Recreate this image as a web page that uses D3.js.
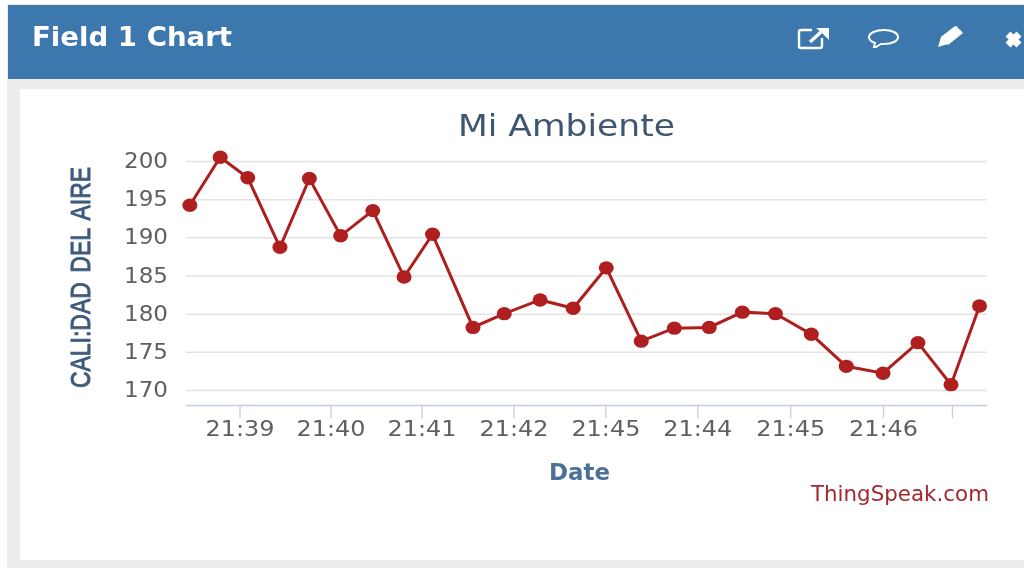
<!DOCTYPE html>
<html><head><meta charset="utf-8">
<script src="https://cdn.jsdelivr.net/npm/d3@7"></script>
<style>html,body{margin:0;padding:0;background:#fff}svg{display:block;filter:blur(.5px)}text{font-family:"DejaVu Sans",sans-serif}</style>
</head><body><svg id="c" width="1024" height="569"></svg>
<script>
const minutes=[38.46,38.79,39.09,39.44,39.76,40.1,40.45,40.79,41.1,41.54,41.88,42.27,42.63,42.99,43.37,43.73,44.11,44.47,44.83,45.22,45.6,46,46.38,46.74,47.05];
const values=[194.2,200.5,197.8,188.7,197.7,190.2,193.5,184.8,190.4,178.2,180,181.8,180.7,186,176.4,178.1,178.2,180.2,180,177.3,173.1,172.2,176.2,170.7,181];
const yTicks=[170,175,180,185,190,195,200];
const xTicks=[39,39.99,40.98,41.98,42.98,43.98,44.99,46,46.75];
const xLabels=["21:39","21:40","21:41","21:42","21:45","21:44","21:45","21:46",""];
const svg=d3.select("#c");
svg.append("rect").attr("x",7).attr("y",4).attr("width",1017).attr("height",564).attr("fill","#ececec");
svg.append("rect").attr("x",8).attr("y",5).attr("width",1016).attr("height",74).attr("fill","#3c77ad");
svg.append("rect").attr("x",20).attr("y",89).attr("width",1004).attr("height",471).attr("fill","#fff");
svg.append("text").attr("x",32).attr("y",46).attr("fill","#fff").attr("font-size",27).attr("font-weight",700).attr("textLength",200).attr("lengthAdjust","spacingAndGlyphs").text("Field 1 Chart");

const icons=svg.append("g").attr("fill","none").attr("stroke","#fff").attr("stroke-width",2.4);
icons.append("path").attr("d","M822 38v8a2 2 0 0 1-2 2h-19a2 2 0 0 1-2-2v-14a2 2 0 0 1 2-2h11");
icons.append("path").attr("d","M810 42l11-10").attr("stroke-width",3.4);
icons.append("path").attr("d","M816 28h13v12l-4-4-3-3z").attr("fill","#fff").attr("stroke","none");
icons.append("path").attr("d","M884 30c8 0 14 3 14 7s-6 7-14 7c-1 0-2 0-3 0l-5 3-2 0 1-4c-3-1-6-3-6-6 0-4 7-7 15-7z").attr("stroke-width",2);
icons.append("path").attr("d","M938 47l3-10 14-11 3 1 -15 12 3 3 15-12 1 3 -14 11z").attr("fill","#fff").attr("stroke","none");
icons.append("path").attr("d","M941 37l15-11 7 7-15 12z").attr("fill","#fff").attr("stroke","none");
icons.append("path").attr("d","M1008 34l11 11M1019 34l-11 11").attr("stroke-width",7);

const x=d3.scaleLinear().domain([39,46]).range([239.5,883]);
const y=d3.scaleLinear().domain([170,200]).range([390,161]);
const left=186,right=987,axisY=405;
const gy=svg.append("g").attr("transform",`translate(${left},0)`)
 .call(d3.axisLeft(y).tickValues(yTicks).tickSize(-(right-left)).tickPadding(18));
gy.select(".domain").remove();
gy.selectAll("line").attr("stroke","#e3e3e6").attr("stroke-width",1.5);
gy.selectAll("text").attr("fill","#606060").attr("font-size",20.5).attr("font-family","DejaVu Sans").attr("dy","0.32em").attr("textLength",44).attr("lengthAdjust","spacingAndGlyphs");
const gx=svg.append("g").attr("transform",`translate(0,${axisY})`)
 .call(d3.axisBottom(x).tickValues(xTicks).tickFormat((d,i)=>xLabels[i]).tickSize(13).tickPadding(3).tickSizeOuter(0));
gx.select(".domain").attr("d",`M${left},0.5H${right}`).attr("stroke","#c0d0e0").attr("stroke-width",1.3);
gx.selectAll("line").attr("stroke","#c0d0e0").attr("stroke-width",1.3);
gx.selectAll("text").attr("fill","#606060").attr("font-size",21).attr("font-family","DejaVu Sans").filter((d,i)=>xLabels[i]).attr("textLength",69).attr("lengthAdjust","spacingAndGlyphs");
const line=d3.line().x((d,i)=>x(minutes[i])).y(d=>y(d));
svg.append("path").datum(values).attr("d",line).attr("fill","none").attr("stroke","#ad1f1f").attr("stroke-width",3);
svg.selectAll("ellipse").data(values).join("ellipse").attr("cx",(d,i)=>x(minutes[i])).attr("cy",d=>y(d)).attr("rx",7.5).attr("ry",6.7).attr("fill","#b01f1f");
svg.append("text").attr("x",566.5).attr("y",136).attr("text-anchor","middle").attr("fill","#3e566f").attr("font-size",30).attr("textLength",217).attr("lengthAdjust","spacingAndGlyphs").text("Mi Ambiente");
svg.append("text").attr("x",579.5).attr("y",480).attr("text-anchor","middle").attr("fill","#4d7099").attr("font-size",23).attr("font-weight",700).attr("textLength",61).attr("lengthAdjust","spacingAndGlyphs").text("Date");
svg.append("text").attr("x",900).attr("y",501).attr("text-anchor","middle").attr("fill","#a3282f").attr("font-size",20.5).attr("textLength",178).attr("lengthAdjust","spacingAndGlyphs").text("ThingSpeak.com");
svg.append("text").attr("transform","translate(90,277.5) rotate(-90)").attr("text-anchor","middle").attr("fill","#3e5a7e").attr("font-size",28).attr("font-weight",400).attr("stroke","#3e5a7e").attr("stroke-width",1).attr("textLength",221).attr("lengthAdjust","spacingAndGlyphs").attr("word-spacing",4).style("font-family","'Liberation Sans Narrow','Liberation Sans'").text("CALI:DAD DEL AIRE");
</script></body></html>
